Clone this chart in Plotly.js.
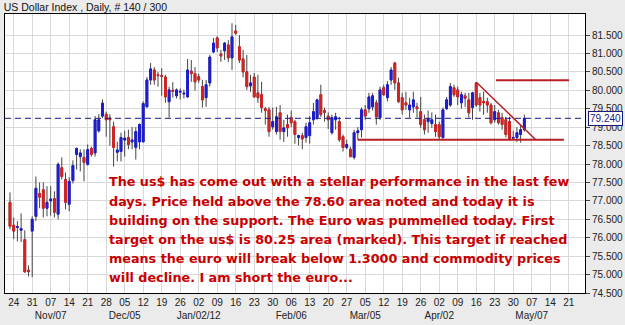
<!DOCTYPE html>
<html>
<head>
<meta charset="utf-8">
<script src="https://cdn.plot.ly/plotly-3.0.1.min.js"></script>
<style>
html,body{margin:0;padding:0;background:#ebebeb;}
#chart{width:625px;height:325px;}
</style>
</head>
<body>
<div id="chart"></div>
<script>
// ---- DATA ----
const firstDay = '2011-10-21';   // first daily bar (140 trading days shown)
const opens = [76.96,76.34,76.28,76.20,75.95,75.12,76.18,76.58,77.20,77.30,
76.80,77.00,77.06,76.64,77.90,77.58,76.91,77.55,78.26,78.20,
78.18,77.99,78.42,78.30,78.90,79.30,79.35,79.25,79.01,78.32,
78.34,78.65,78.72,78.60,78.45,78.60,78.60,79.55,80.28,80.55,
80.42,80.40,80.36,79.69,80.00,79.85,79.95,79.90,79.82,80.52,
80.45,80.37,80.10,79.80,80.20,81.04,81.42,80.98,81.07,81.23,
80.88,81.61,81.18,80.85,80.50,80.12,80.36,79.93,79.88,79.50,
79.47,79.01,78.88,79.39,78.88,79.07,79.26,79.15,78.72,78.77,
78.72,78.77,79.20,79.26,79.88,79.45,79.30,78.85,79.20,79.15,
78.74,78.45,78.40,78.18,78.85,78.93,79.47,79.50,79.55,79.66,
79.26,80.07,79.80,80.28,80.74,80.20,79.80,79.66,79.47,79.55,
79.55,79.42,79.20,79.15,79.10,79.07,79.07,78.72,79.50,79.60,
80.07,80.01,79.66,79.85,79.74,79.53,80.20,79.80,79.70,79.69,
79.60,79.20,79.39,79.26,79.20,79.15,78.70,78.72,78.80,78.93];
const highs = [77.23,76.55,76.45,76.66,76.20,75.25,76.58,77.66,77.50,77.50,
77.40,77.40,77.26,78.04,78.18,77.77,77.64,78.10,78.45,78.40,
78.40,78.53,78.47,79.30,79.35,79.75,79.42,79.35,79.15,78.60,
78.85,78.90,78.93,79.00,79.00,79.10,79.70,80.36,80.74,80.63,
80.50,80.60,80.42,80.10,80.22,80.05,80.05,80.02,80.85,80.82,
80.63,80.45,80.28,80.28,80.96,81.42,81.47,81.10,81.31,81.36,
81.82,81.77,81.50,81.10,80.96,80.42,80.47,80.42,80.23,79.55,
79.55,79.53,79.55,79.60,79.20,79.34,79.45,79.20,78.80,78.85,
79.12,79.30,79.66,79.77,80.15,79.53,79.40,79.34,79.39,79.28,
78.80,78.66,78.47,78.93,79.00,79.53,79.60,79.93,79.93,79.74,
80.10,80.15,80.25,80.63,80.77,80.34,79.93,79.96,79.80,79.96,
79.66,79.82,79.34,79.45,79.40,79.34,79.15,79.53,79.82,80.20,
80.15,80.10,79.96,79.93,79.93,79.96,80.23,79.93,79.96,79.80,
79.66,79.60,79.47,79.39,79.28,79.28,78.90,79.00,79.05,79.34];
const lows = [76.23,75.96,75.90,75.88,75.07,74.95,74.93,76.45,76.80,76.55,
76.58,76.60,76.55,76.50,77.58,76.77,76.72,77.47,77.85,77.80,
77.53,77.96,78.20,78.20,78.85,79.25,78.74,78.50,77.93,78.07,
78.07,78.20,78.40,78.40,78.12,78.40,78.60,79.55,80.15,80.15,
80.10,79.85,79.66,79.26,79.80,79.78,79.75,79.78,79.80,80.23,
79.99,80.20,79.53,79.55,80.10,81.01,81.04,80.77,80.82,80.77,
80.55,81.50,80.74,80.35,80.01,79.96,79.80,79.66,79.39,79.07,
78.74,78.93,78.80,78.66,78.60,78.74,79.00,78.55,78.50,78.40,
78.58,78.55,79.07,79.20,79.28,79.15,78.95,78.80,78.93,78.60,
78.34,78.40,78.18,78.12,78.66,78.72,79.20,79.39,79.45,79.07,
79.20,79.85,79.70,80.15,80.01,79.66,79.34,79.47,79.26,79.39,
79.26,78.98,78.80,78.85,78.98,78.74,78.66,78.66,79.47,79.55,
79.82,79.60,79.50,79.55,79.26,79.20,79.55,79.42,79.34,79.39,
79.07,79.12,79.07,78.93,78.72,78.66,78.66,78.60,78.58,78.88];
const closes = [76.31,76.18,76.30,76.25,75.07,75.08,76.50,77.34,77.10,76.80,
76.96,77.05,76.69,77.99,77.66,76.96,77.53,77.96,78.42,78.30,
78.04,78.39,78.26,79.20,79.20,79.65,79.20,79.20,78.45,78.38,
78.72,78.70,78.53,78.65,78.88,79.07,79.64,80.28,80.58,80.28,
80.40,80.38,79.82,80.01,79.97,80.01,79.97,79.92,80.55,80.45,
80.23,80.28,79.74,80.15,80.90,81.28,81.15,80.93,81.28,80.88,
81.45,81.55,80.82,80.50,80.10,80.20,79.82,79.80,79.53,79.45,
78.88,79.15,79.28,78.88,78.98,78.98,79.12,78.80,78.77,78.68,
79.01,79.12,79.42,79.74,79.34,79.40,79.20,79.26,79.28,78.66,
78.45,78.53,78.20,78.85,78.90,79.47,79.30,79.82,79.85,79.28,
80.01,79.88,80.15,80.55,80.20,79.69,79.47,79.60,79.60,79.74,
79.50,79.07,78.93,79.23,79.20,78.88,78.74,79.47,79.74,80.10,
79.88,79.82,79.88,79.78,79.39,79.93,79.60,79.60,79.66,79.60,
79.12,79.42,79.12,79.07,78.80,78.66,78.72,78.85,78.93,79.24];

const tickDates = ['2011-10-24','2011-10-31','2011-11-07','2011-11-14','2011-11-21','2011-11-28',
'2011-12-05','2011-12-12','2011-12-19','2011-12-26','2012-01-02','2012-01-09','2012-01-16',
'2012-01-23','2012-01-30','2012-02-06','2012-02-13','2012-02-20','2012-02-27','2012-03-05',
'2012-03-12','2012-03-19','2012-03-26','2012-04-02','2012-04-09','2012-04-16','2012-04-23',
'2012-04-30','2012-05-07','2012-05-14','2012-05-21'];
const tickDays = ['24','31','07','14','21','28','05','12','19','26','02','09','16','23','30',
'06','13','20','27','05','12','19','26','02','09','16','23','30','07','14','21'];
const monthLabels = {'2011-11-07':'Nov/07','2011-12-05':'Dec/05','2012-01-02':'Jan/02/12',
'2012-02-06':'Feb/06','2012-03-05':'Mar/05','2012-04-02':'Apr/02','2012-05-07':'May/07'};
const priceTicks = [74.5,75.0,75.5,76.0,76.5,77.0,77.5,78.0,78.5,79.0,79.5,80.0,80.5,81.0,81.5];

const lastPrice = 79.24;
const supportLevel = 78.66;
const targetLevel = 80.27;
const trendStart = {x:'2012-04-16 02:24', y:80.21};
const trendEnd   = {x:'2012-05-08 02:24', y:78.66};
const supportSpan = ['2012-03-01 00:00','2012-05-17 16:48'];
const targetSpan  = ['2012-04-23 08:24','2012-05-21 02:24'];

const titleText = 'US Dollar Index , Daily, # 140 / 300';
const commentLines = [
 'The us$ has come out with a stellar performance in the last few',
 'days. Price held above the 78.60 area noted and today it is',
 'building on the support. The Euro was pummelled today. First',
 'target on the us$ is 80.25 area (marked). This target if reached',
 'means the euro will break below 1.3000 and commodity prices',
 'will decline. I am short the euro...'
];

// ---- trading calendar (weekdays) ----
function tradingDays(start, n){
  const out=[]; const d=new Date(start+'T00:00:00Z');
  while(out.length<n){
    const wd=d.getUTCDay();
    if(wd!==0 && wd!==6) out.push(d.toISOString().slice(0,10));
    d.setUTCDate(d.getUTCDate()+1);
  }
  return out;
}
const dates = tradingDays(firstDay, closes.length);

const bodyHigh = opens.map((o,i)=>Math.max(o,closes[i]));
const bodyLow  = opens.map((o,i)=>Math.min(o,closes[i]));

const BLUE='#1c1cd4', RED='#d42222', WICK='#444444', DARKRED='#b81f24', NAVY='#1a1a80';

const wicks = {
  type:'candlestick', x:dates, open:opens, high:highs, low:lows, close:closes,
  increasing:{line:{color:WICK,width:1},fillcolor:'rgba(0,0,0,0)'},
  decreasing:{line:{color:WICK,width:1},fillcolor:'rgba(0,0,0,0)'},
  hoverinfo:'skip', showlegend:false
};
const bodies = {
  type:'candlestick', x:dates, open:opens, high:bodyHigh, low:bodyLow, close:closes,
  increasing:{line:{color:BLUE,width:1},fillcolor:BLUE},
  decreasing:{line:{color:RED,width:1},fillcolor:RED},
  hoverinfo:'skip', showlegend:false
};

const ticktext = tickDates.map((d,i)=> monthLabels[d] ? tickDays[i]+'<br>'+monthLabels[d] : tickDays[i]);

const annotations = commentLines.map((t,i)=>({
  xref:'paper', yref:'paper', x:0.176, y:0.398 - i*0.0688,
  xanchor:'left', yanchor:'middle', showarrow:false, align:'left',
  text:'<b>'+t+'</b>',
  font:{family:'DejaVu Sans', size:12.75, color:'#c80000'}
}));
annotations.push({
  xref:'paper', yref:'y', x:1, y:lastPrice, xanchor:'left', yanchor:'middle', xshift:3,
  showarrow:false, text:lastPrice.toFixed(3),
  font:{family:'Liberation Sans', size:10, color:NAVY},
  bgcolor:'#ffffff', bordercolor:NAVY, borderwidth:1, borderpad:1
});

const shapes = [
  {type:'line', xref:'paper', yref:'y', x0:0, x1:1, y0:lastPrice, y1:lastPrice,
   line:{color:NAVY, width:1, dash:'6px,4px'}},
  {type:'line', xref:'x', yref:'y', x0:supportSpan[0], x1:supportSpan[1], y0:supportLevel, y1:supportLevel,
   line:{color:DARKRED, width:2}},
  {type:'line', xref:'x', yref:'y', x0:targetSpan[0], x1:targetSpan[1], y0:targetLevel, y1:targetLevel,
   line:{color:DARKRED, width:2}},
  {type:'line', xref:'x', yref:'y', x0:trendStart.x, x1:trendEnd.x, y0:trendStart.y, y1:trendEnd.y,
   line:{color:DARKRED, width:1.5}}
];

const layout = {
  width:625, height:325,
  margin:{l:5, r:40, t:14, b:32, pad:0},
  paper_bgcolor:'#ebebeb', plot_bgcolor:'#ffffff',
  showlegend:false,
  title:{text:titleText, xref:'container', yref:'container', x:0.006, xanchor:'left', y:0.978, yanchor:'middle',
         font:{family:'Liberation Sans', size:10.5, color:'#111'}},
  xaxis:{
    type:'date', rangebreaks:[{bounds:['sat','mon']}],
    range:['2011-10-19 15:36','2012-05-25 09:36'],
    rangeslider:{visible:false},
    tickmode:'array', tickvals:tickDates, ticktext:ticktext, tickangle:0,
    showgrid:true, gridcolor:'#d9d9d9', gridwidth:1,
    showline:true, linecolor:'#000', linewidth:1, mirror:true,
    ticks:'', tickfont:{family:'Liberation Sans', size:10, color:'#222'},
    zeroline:false, fixedrange:true
  },
  yaxis:{
    side:'right', range:[74.5, 82.07], tickmode:'array', tickvals:priceTicks, tickformat:'.3f',
    showgrid:true, gridcolor:'#d9d9d9', gridwidth:1,
    showline:true, linecolor:'#000', linewidth:1, mirror:true,
    ticks:'outside', ticklen:4, tickcolor:'#444',
    tickfont:{family:'Liberation Sans', size:10, color:'#222'},
    zeroline:false, fixedrange:true
  },
  shapes:shapes,
  annotations:annotations
};

Plotly.newPlot('chart', [wicks, bodies], layout, {displayModeBar:false, staticPlot:true});
</script>
</body>
</html>
